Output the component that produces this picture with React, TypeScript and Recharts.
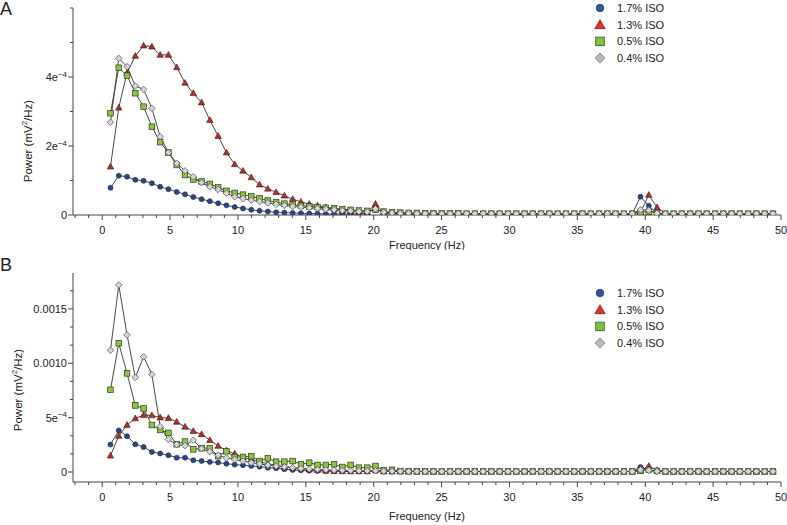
import React from 'react';
import { LineChart, Line, XAxis, YAxis, Legend } from 'recharts';

const FONT = '"Liberation Sans", Arial, Helvetica, sans-serif';
const TEXT = '#222';
const AXIS = '#444';

// Frequency bins (Hz)
const freqHz = [
  0.61, 1.22, 1.83, 2.44, 3.05, 3.66, 4.27, 4.88, 5.49, 6.10,
  6.71, 7.32, 7.93, 8.54, 9.15, 9.76, 10.37, 10.98, 11.59, 12.20,
  12.81, 13.42, 14.03, 14.64, 15.25, 15.86, 16.47, 17.08, 17.69, 18.30,
  18.91, 19.52, 20.13, 20.74, 21.35, 21.96, 22.57, 23.18, 23.79, 24.40,
  25.01, 25.62, 26.23, 26.84, 27.45, 28.06, 28.67, 29.28, 29.89, 30.50,
  31.11, 31.72, 32.33, 32.94, 33.55, 34.16, 34.77, 35.38, 35.99, 36.60,
  37.21, 37.82, 38.43, 39.04, 39.65, 40.26, 40.87, 41.48, 42.09, 42.70,
  43.31, 43.92, 44.53, 45.14, 45.75, 46.36, 46.97, 47.58, 48.19, 48.80,
  49.41,
];

const seriesNames = ['1.7% ISO', '1.3% ISO', '0.5% ISO', '0.4% ISO'];

// Panel A values (units of 1e-4 mV^2/Hz)
const topBlue = [
  0.79, 1.14, 1.11, 1.02, 0.99, 0.92, 0.82, 0.75, 0.67, 0.60,
  0.52, 0.46, 0.40, 0.34, 0.28, 0.23, 0.19, 0.15, 0.12, 0.10,
  0.08, 0.07, 0.06, 0.05, 0.04, 0.04, 0.03, 0.03, 0.03, 0.03,
  0.03, 0.05, 0.20, 0.05, 0.03, 0.02, 0.02, 0.02, 0.02, 0.02,
  0.02, 0.02, 0.02, 0.02, 0.02, 0.02, 0.02, 0.02, 0.02, 0.02,
  0.02, 0.02, 0.02, 0.02, 0.02, 0.02, 0.02, 0.02, 0.02, 0.02,
  0.02, 0.02, 0.02, 0.03, 0.53, 0.27, 0.04, 0.02, 0.02, 0.02,
  0.02, 0.02, 0.02, 0.02, 0.02, 0.02, 0.02, 0.02, 0.02, 0.02,
  0.02,
];
const topRed = [
  1.40, 3.11, 4.12, 4.61, 4.91, 4.88, 4.64, 4.64, 4.28, 3.83,
  3.53, 3.26, 2.75, 2.29, 1.81, 1.47, 1.28, 1.09, 0.88, 0.76,
  0.66, 0.56, 0.46, 0.38, 0.32, 0.27, 0.22, 0.18, 0.14, 0.11,
  0.09, 0.08, 0.32, 0.07, 0.05, 0.04, 0.04, 0.03, 0.03, 0.03,
  0.03, 0.03, 0.03, 0.03, 0.03, 0.03, 0.03, 0.03, 0.03, 0.03,
  0.03, 0.03, 0.03, 0.03, 0.03, 0.03, 0.03, 0.03, 0.03, 0.03,
  0.03, 0.03, 0.03, 0.03, 0.08, 0.58, 0.22, 0.04, 0.03, 0.03,
  0.03, 0.03, 0.03, 0.03, 0.03, 0.03, 0.03, 0.03, 0.03, 0.03,
  0.03,
];
const topGreen = [
  2.95, 4.27, 4.04, 3.53, 3.14, 2.56, 2.11, 1.81, 1.45, 1.16,
  1.03, 0.97, 0.90, 0.80, 0.70, 0.64, 0.59, 0.54, 0.48, 0.42,
  0.37, 0.33, 0.30, 0.27, 0.25, 0.23, 0.21, 0.19, 0.17, 0.15,
  0.13, 0.12, 0.15, 0.10, 0.08, 0.07, 0.06, 0.06, 0.05, 0.05,
  0.05, 0.05, 0.05, 0.04, 0.04, 0.04, 0.04, 0.04, 0.04, 0.04,
  0.04, 0.04, 0.04, 0.04, 0.04, 0.04, 0.04, 0.04, 0.04, 0.04,
  0.04, 0.04, 0.04, 0.04, 0.08, 0.10, 0.06, 0.04, 0.04, 0.04,
  0.04, 0.04, 0.04, 0.04, 0.04, 0.04, 0.04, 0.04, 0.04, 0.04,
  0.04,
];
const topGray = [
  2.69, 4.54, 4.30, 3.74, 3.64, 3.09, 2.27, 1.81, 1.50, 1.28,
  1.11, 0.94, 0.82, 0.74, 0.63, 0.53, 0.48, 0.43, 0.39, 0.35,
  0.31, 0.28, 0.25, 0.23, 0.21, 0.19, 0.17, 0.15, 0.13, 0.12,
  0.10, 0.09, 0.18, 0.08, 0.06, 0.05, 0.05, 0.04, 0.04, 0.04,
  0.04, 0.04, 0.04, 0.04, 0.04, 0.04, 0.04, 0.04, 0.04, 0.04,
  0.04, 0.04, 0.04, 0.04, 0.04, 0.04, 0.04, 0.04, 0.04, 0.04,
  0.04, 0.04, 0.04, 0.04, 0.15, 0.14, 0.05, 0.04, 0.04, 0.04,
  0.04, 0.04, 0.04, 0.04, 0.04, 0.04, 0.04, 0.04, 0.04, 0.04,
  0.04,
];

// Panel B values (units of 1e-4 mV^2/Hz)
const botBlue = [
  2.52, 3.82, 3.29, 2.55, 2.29, 1.85, 1.70, 1.54, 1.32, 1.32,
  1.08, 1.01, 0.93, 0.88, 0.76, 0.68, 0.62, 0.56, 0.49, 0.40,
  0.34, 0.25, 0.19, 0.15, 0.12, 0.10, 0.08, 0.07, 0.06, 0.05,
  0.05, 0.05, 0.10, 0.05, 0.04, 0.04, 0.04, 0.04, 0.04, 0.04,
  0.04, 0.04, 0.04, 0.04, 0.04, 0.04, 0.04, 0.04, 0.04, 0.04,
  0.04, 0.04, 0.04, 0.04, 0.04, 0.04, 0.04, 0.04, 0.04, 0.04,
  0.04, 0.04, 0.04, 0.04, 0.46, 0.15, 0.05, 0.03, 0.03, 0.03,
  0.03, 0.03, 0.03, 0.03, 0.03, 0.03, 0.03, 0.03, 0.03, 0.03,
  0.03,
];
const botRed = [
  1.50, 3.32, 4.32, 4.93, 5.24, 5.20, 5.01, 4.96, 4.61, 4.16,
  3.75, 3.47, 2.93, 2.40, 1.98, 1.68, 1.35, 1.14, 0.92, 0.77,
  0.62, 0.50, 0.40, 0.32, 0.25, 0.18, 0.12, 0.09, 0.07, 0.06,
  0.06, 0.06, 0.15, 0.05, 0.04, 0.04, 0.04, 0.04, 0.04, 0.04,
  0.04, 0.04, 0.04, 0.04, 0.04, 0.04, 0.04, 0.04, 0.04, 0.04,
  0.04, 0.04, 0.04, 0.04, 0.04, 0.04, 0.04, 0.04, 0.04, 0.04,
  0.04, 0.04, 0.04, 0.04, 0.10, 0.55, 0.15, 0.04, 0.04, 0.04,
  0.04, 0.04, 0.04, 0.04, 0.04, 0.04, 0.04, 0.04, 0.04, 0.04,
  0.04,
];
const botGreen = [
  7.56, 11.84, 9.07, 6.12, 5.84, 4.32, 3.87, 3.60, 2.55, 2.80,
  2.08, 2.18, 2.20, 1.46, 1.90, 1.38, 1.38, 1.45, 1.01, 1.26,
  0.95, 0.95, 1.01, 0.71, 0.86, 0.65, 0.65, 0.71, 0.46, 0.65,
  0.40, 0.40, 0.55, 0.16, 0.20, 0.09, 0.07, 0.06, 0.06, 0.05,
  0.05, 0.05, 0.05, 0.05, 0.05, 0.05, 0.05, 0.05, 0.05, 0.05,
  0.05, 0.05, 0.05, 0.05, 0.05, 0.05, 0.05, 0.05, 0.05, 0.05,
  0.05, 0.05, 0.05, 0.05, 0.15, 0.20, 0.10, 0.05, 0.05, 0.05,
  0.05, 0.05, 0.05, 0.05, 0.05, 0.05, 0.05, 0.05, 0.05, 0.05,
  0.05,
];
const botGray = [
  11.20, 17.20, 12.60, 8.70, 10.60, 8.97, 4.18, 2.98, 2.52, 2.43,
  2.92, 2.15, 1.87, 1.55, 1.30, 1.15, 1.00, 0.86, 0.74, 0.63,
  0.55, 0.47, 0.40, 0.32, 0.27, 0.24, 0.20, 0.17, 0.15, 0.13,
  0.11, 0.10, 0.12, 0.08, 0.07, 0.06, 0.05, 0.05, 0.05, 0.05,
  0.05, 0.05, 0.05, 0.05, 0.05, 0.05, 0.05, 0.05, 0.05, 0.05,
  0.05, 0.05, 0.05, 0.05, 0.05, 0.05, 0.05, 0.05, 0.05, 0.05,
  0.05, 0.05, 0.05, 0.05, 0.20, 0.15, 0.06, 0.05, 0.05, 0.05,
  0.05, 0.05, 0.05, 0.05, 0.05, 0.05, 0.05, 0.05, 0.05, 0.05,
  0.05,
];

// Axis ticks
const xTickValues = [
  -2, -1, 0, 1, 2, 3, 4, 5, 6, 7, 8, 9, 10, 11, 12, 13, 14, 15, 16, 17, 18, 19, 20,
  21, 22, 23, 24, 25, 26, 27, 28, 29, 30, 31, 32, 33, 34, 35, 36, 37, 38, 39, 40,
  41, 42, 43, 44, 45, 46, 47, 48, 49, 50,
];
const xMajorValues = [0, 5, 10, 15, 20, 25, 30, 35, 40, 45, 50];
const xMajorLabels = ['0', '5', '10', '15', '20', '25', '30', '35', '40', '45', '50'];

const topYTicks = [0, 1, 2, 3, 4, 5, 6];
const topYLabelValues = [0, 2, 4];
const topYLabelBase = ['0', '2e', '4e'];
const topYLabelExp = ['', '\u22124', '\u22124'];

const botYTicks = [0, 1.6667, 3.3333, 5, 6.6667, 8.3333, 10, 11.6667, 13.3333, 15, 16.6667];
const botYLabelValues = [0, 5, 10, 15];
const botYLabelBase = ['0', '5e', '0.0010', '0.0015'];
const botYLabelExp = ['', '\u22124', '', ''];

const buildData = (b: number[], r: number[], g: number[], y: number[]) =>
  freqHz.map((f, i) => ({ f, blue: b[i], red: r[i], green: g[i], gray: y[i] }));

const topData = buildData(topBlue, topRed, topGreen, topGray);
const botData = buildData(botBlue, botRed, botGreen, botGray);

// Marker renderers
const blueDot = (p: any) =>
  p.cx == null || p.cy == null ? (
    <g key={`b${p.index}`} />
  ) : (
    <circle key={`b${p.index}`} cx={p.cx} cy={p.cy} r={2.5} fill="#2a4785" stroke="#17264a" strokeWidth={0.6} />
  );
const redDot = (p: any) => {
  if (p.cx == null || p.cy == null) return <g key={`r${p.index}`} />;
  const s = 3.4;
  const pts = `${p.cx},${p.cy - s} ${p.cx + s * 0.95},${p.cy + s * 0.7} ${p.cx - s * 0.95},${p.cy + s * 0.7}`;
  return <polygon key={`r${p.index}`} points={pts} fill="#b0302d" stroke="#4a1616" strokeWidth={0.6} />;
};
const greenDot = (p: any) =>
  p.cx == null || p.cy == null ? (
    <g key={`g${p.index}`} />
  ) : (
    <rect key={`g${p.index}`} x={p.cx - 2.8} y={p.cy - 2.8} width={5.6} height={5.6} fill="#8cc540" stroke="#2e3a22" strokeWidth={0.7} />
  );
const grayDot = (p: any) => {
  if (p.cx == null || p.cy == null) return <g key={`y${p.index}`} />;
  const s = 3.3;
  const pts = `${p.cx},${p.cy - s} ${p.cx + s},${p.cy} ${p.cx},${p.cy + s} ${p.cx - s},${p.cy}`;
  return <polygon key={`y${p.index}`} points={pts} fill="#d6d6d6" stroke="#505050" strokeWidth={0.7} />;
};

const renderXTick = (props: any) => {
  const { x, y, payload } = props;
  const v = payload.value;
  const mi = xMajorValues.findIndex((m) => Math.abs(m - v) < 1e-6);
  const major = mi >= 0;
  return (
    <g key={`xt${v}`}>
      <line x1={x} x2={x} y1={y} y2={y + (major ? 5 : 3)} stroke={AXIS} strokeWidth={1} />
      {major && (
        <text x={x} y={y + 19} textAnchor="middle" fontSize={11} fontFamily={FONT} fill={TEXT}>
          {xMajorLabels[mi]}
        </text>
      )}
    </g>
  );
};

const makeYTick = (vals: number[], base: string[], exp: string[]) => (props: any) => {
  const { x, y, payload } = props;
  const v = payload.value;
  const li = vals.findIndex((m) => Math.abs(m - v) < 1e-3);
  const major = li >= 0;
  return (
    <g key={`yt${v}`}>
      <line x1={x - (major ? 5 : 3)} x2={x} y1={y} y2={y} stroke={AXIS} strokeWidth={1} />
      {major && (
        <text x={x - 6} y={y + 4} textAnchor="end" fontSize={11} fontFamily={FONT} fill={TEXT}>
          <tspan>{base[li]}</tspan>
          {exp[li] ? (
            <tspan dy={-4.5} fontSize={8}>
              {exp[li]}
            </tspan>
          ) : null}
        </text>
      )}
    </g>
  );
};

const topYTick = makeYTick(topYLabelValues, topYLabelBase, topYLabelExp);
const botYTick = makeYTick(botYLabelValues, botYLabelBase, botYLabelExp);

const legendColors = [
  { kind: 'circle', fill: '#2b57a6', stroke: '#1a2f5c' },
  { kind: 'triangle', fill: '#e2302b', stroke: '#6a1a16' },
  { kind: 'square', fill: '#7cc242', stroke: '#2e4a1c' },
  { kind: 'diamond', fill: '#b9b9b9', stroke: '#6a6a6a' },
];

const LegendBox = () => (
  <svg width={150} height={70} style={{ display: 'block' }}>
    {seriesNames.map((name, i) => {
      const cy = 8 + i * 16.7;
      const cx = 10;
      const c = legendColors[i];
      let icon: React.ReactNode = null;
      if (c.kind === 'circle') icon = <circle cx={cx} cy={cy} r={3.8} fill={c.fill} stroke={c.stroke} strokeWidth={0.7} />;
      if (c.kind === 'triangle')
        icon = (
          <polygon
            points={`${cx},${cy - 5} ${cx + 5.2},${cy + 4} ${cx - 5.2},${cy + 4}`}
            fill={c.fill}
            stroke={c.stroke}
            strokeWidth={0.7}
          />
        );
      if (c.kind === 'square')
        icon = <rect x={cx - 4.3} y={cy - 4.3} width={8.6} height={8.6} fill={c.fill} stroke={c.stroke} strokeWidth={0.7} />;
      if (c.kind === 'diamond')
        icon = (
          <polygon
            points={`${cx},${cy - 5} ${cx + 5},${cy} ${cx},${cy + 5} ${cx - 5},${cy}`}
            fill={c.fill}
            stroke={c.stroke}
            strokeWidth={0.7}
          />
        );
      return (
        <g key={name}>
          {icon}
          <text x={27} y={cy + 4} fontSize={11} fontFamily={FONT} fill={TEXT}>
            {name}
          </text>
        </g>
      );
    })}
  </svg>
);

type PanelProps = {
  data: any[];
  height: number;
  top: number;
  yDomain: [number, number];
  yTicks: number[];
  yTick: any;
  xAxisHeight: number;
  xLabelY: number;
  yLabelX: number;
  yLabelY: number;
  legendTop: number;
};

const Panel = (p: PanelProps) => (
  <LineChart width={787} height={p.height} data={p.data} margin={{ top: p.top, right: 6, bottom: 0, left: 0 }}>
    <XAxis
      dataKey="f"
      type="number"
      domain={[-2.15, 50]}
      ticks={xTickValues}
      interval={0}
      tick={renderXTick}
      tickLine={false}
      tickSize={0}
      tickMargin={0}
      axisLine={{ stroke: AXIS, strokeWidth: 1 }}
      height={p.xAxisHeight}
      allowDataOverflow
      label={{
        content: () => (
          <text x={427} y={p.xLabelY} textAnchor="middle" fontSize={11} fontFamily={FONT} fill={TEXT}>
            Frequency (Hz)
          </text>
        ),
      }}
    />
    <YAxis
      type="number"
      domain={p.yDomain}
      ticks={p.yTicks}
      interval={0}
      tick={p.yTick}
      tickLine={false}
      tickSize={0}
      tickMargin={0}
      width={73}
      axisLine={{ stroke: AXIS, strokeWidth: 1 }}
      allowDataOverflow
      label={{
        content: () => (
          <text
            x={p.yLabelX}
            y={p.yLabelY}
            transform={`rotate(-90, ${p.yLabelX}, ${p.yLabelY})`}
            textAnchor="middle"
            dominantBaseline="central"
            fontSize={11.5}
            fontFamily={FONT}
            fill={TEXT}
          >
            Power (mV
            <tspan dy={-4} fontSize={8}>
              2
            </tspan>
            <tspan dy={4}>/Hz)</tspan>
          </text>
        ),
      }}
    />
    <Legend
      layout="horizontal"
      verticalAlign="middle"
      align="center"
      content={() => <LegendBox />}
      wrapperStyle={{ position: 'absolute', left: 590, top: p.legendTop, width: 150, height: 70 }}
    />
    <Line type="linear" dataKey="blue" name={seriesNames[0]} stroke="#333" strokeWidth={0.9} dot={blueDot} activeDot={false} isAnimationActive={false} />
    <Line type="linear" dataKey="red" name={seriesNames[1]} stroke="#333" strokeWidth={0.9} dot={redDot} activeDot={false} isAnimationActive={false} />
    <Line type="linear" dataKey="green" name={seriesNames[2]} stroke="#333" strokeWidth={0.9} dot={greenDot} activeDot={false} isAnimationActive={false} />
    <Line type="linear" dataKey="gray" name={seriesNames[3]} stroke="#333" strokeWidth={0.9} dot={grayDot} activeDot={false} isAnimationActive={false} />
  </LineChart>
);

export default function App() {
  return (
    <div style={{ position: 'absolute', left: 0, top: 0, width: 787, height: 525, background: '#fff', overflow: 'hidden' }}>
      <div style={{ position: 'absolute', left: 0, top: 0 }}>
        <Panel
          data={topData}
          height={250}
          top={8}
          yDomain={[0, 6]}
          yTicks={topYTicks}
          yTick={topYTick}
          xAxisHeight={35}
          xLabelY={249}
          yLabelX={28}
          yLabelY={141}
          legendTop={0}
        />
      </div>
      <div style={{ position: 'absolute', left: 0, top: 260 }}>
        <Panel
          data={botData}
          height={265}
          top={13}
          yDomain={[-0.92, 18.3]}
          yTicks={botYTicks}
          yTick={botYTick}
          xAxisHeight={43}
          xLabelY={260}
          yLabelX={18}
          yLabelY={130}
          legendTop={25}
        />
      </div>
      <svg width={787} height={525} style={{ position: 'absolute', left: 0, top: 0, pointerEvents: 'none' }}>
        <text x={0} y={15} fontSize={18} fontFamily={FONT} fill={TEXT}>
          A
        </text>
        <text x={0} y={271} fontSize={18} fontFamily={FONT} fill={TEXT}>
          B
        </text>
      </svg>
    </div>
  );
}
